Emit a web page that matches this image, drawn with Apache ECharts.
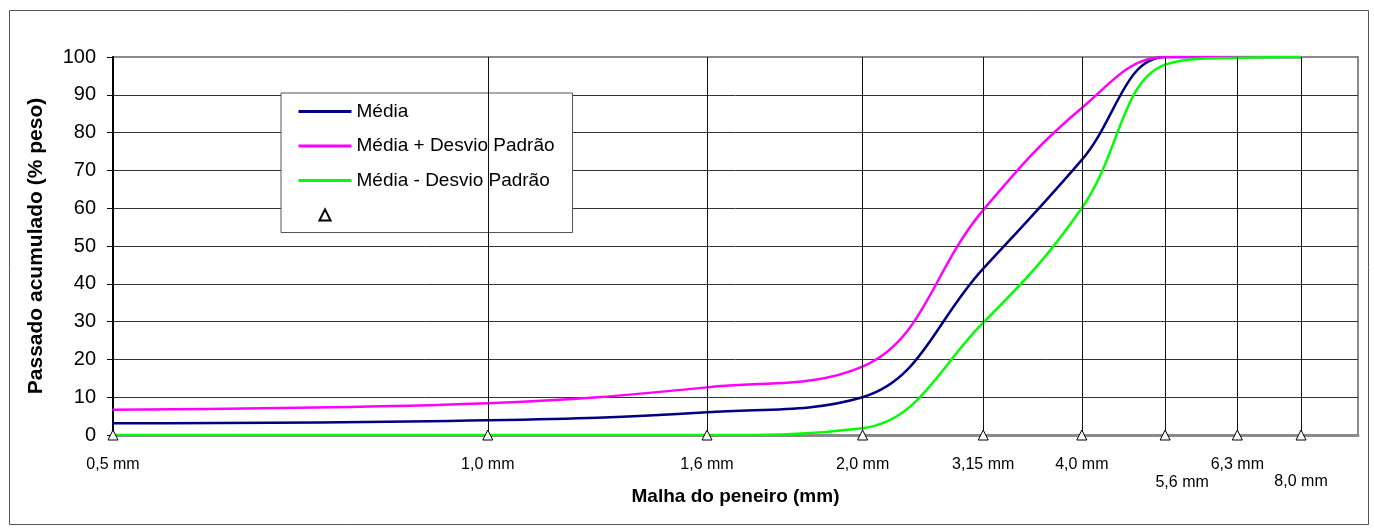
<!DOCTYPE html>
<html>
<head>
<meta charset="utf-8">
<script src="https://cdn.jsdelivr.net/npm/echarts@6/dist/echarts.min.js"></script>
<style>
  html, body { margin: 0; padding: 0; background: #fff; }
  #chart { width: 1374px; height: 530px; }
</style>
</head>
<body>
<div id="chart"></div>
<script>
// peneiros: posição no eixo (1..9, escala log) e rótulo
const sievePos = [1, 2, 3, 4, 5, 6, 7, 8, 9]
const sieveLabels = ['0,5 mm', '1,0 mm', '1,6 mm', '2,0 mm', '3,15 mm', '4,0 mm', '5,6 mm', '6,3 mm', '8,0 mm']

// passado acumulado (% peso)
const media = [3.1, 3.9, 6.0, 10.0, 44.0, 72.8, 100, 100, 100]
const mediaMais = [6.7, 8.4, 12.6, 18.1, 59.5, 86.5, 100, 100, 100]
const mediaMenos = [0, 0, 0, 1.8, 29.7, 60, 98, 99.8, 100]

const yTicks = { min: 0, max: 100, interval: 10 }

const font = 'Arial, "Liberation Sans", sans-serif'

const chart = echarts.init(document.getElementById('chart'))

function pairs(vals) {
  return sievePos.map((x, i) => [x, vals[i]])
}

// rótulos dos peneiros abaixo dos triângulos (5,6 e 8,0 deslocados como no original)
const markers = sievePos.map((x, i) => {
  const item = { value: [x, 0] }
  if (i === 6) item.label = { offset: [17, 18] }
  if (i === 8) item.label = { offset: [0, 17] }
  return item
})

const curve = (name, color, vals) => ({
  name: name,
  type: 'line',
  smooth: 0.4,
  symbol: 'none',
  lineStyle: { color: color, width: 2.5 },
  itemStyle: { color: color },
  data: pairs(vals),
  z: 3
})

// só a linha na legenda, sem o círculo
const lineOnly = name => ({ name: name, itemStyle: { opacity: 0 }, lineStyle: { width: 3 } })

const option = {
  animation: false,
  backgroundColor: '#fff',
  textStyle: { fontFamily: font },
  graphic: [{
    type: 'rect',
    shape: { x: 9.5, y: 10.5, width: 1359, height: 514 },
    style: { fill: 'none', stroke: '#555', lineWidth: 1 },
    silent: true
  }],
  grid: {
    left: 113, top: 57, right: 16, bottom: 95,
    show: true, borderColor: '#8a8a8a', borderWidth: 2
  },
  legend: {
    data: [
      lineOnly('Média'),
      lineOnly('Média + Desvio Padrão'),
      lineOnly('Média - Desvio Padrão'),
      ' '
    ],
    orient: 'vertical',
    left: 281, top: 93,
    padding: [9, 18, 8, 16],
    itemWidth: 53, itemHeight: 14, itemGap: 15.5,
    borderColor: '#555', borderWidth: 1,
    backgroundColor: '#fff',
    textStyle: { fontSize: 19, color: '#000', fontFamily: font }
  },
  xAxis: {
    type: 'log', logBase: 10, min: 1, max: 10,
    name: 'Malha do peneiro (mm)',
    nameLocation: 'middle', nameGap: 52,
    nameTextStyle: { fontSize: 19, fontWeight: 'bold', color: '#000', fontFamily: font },
    axisLine: { lineStyle: { color: '#8a8a8a', width: 3 } },
    axisTick: { show: false },
    axisLabel: { show: false },
    splitLine: { show: false }
  },
  yAxis: {
    type: 'value',
    min: yTicks.min, max: yTicks.max, interval: yTicks.interval,
    name: 'Passado acumulado (% peso)',
    nameLocation: 'middle', nameGap: 66,
    nameTextStyle: { fontSize: 21, fontWeight: 'bold', color: '#000', fontFamily: font },
    axisLine: { show: true, lineStyle: { color: '#000', width: 2 } },
    axisTick: { show: true, inside: false, length: 6, lineStyle: { color: '#000' } },
    axisLabel: { fontSize: 20, color: '#000', margin: 17, fontFamily: font },
    splitLine: { show: true, showMinLine: false, showMaxLine: false, lineStyle: { color: '#333', width: 1 } }
  },
  series: [
    {
      name: 'grade',
      type: 'line',
      data: [],
      markLine: {
        silent: true,
        symbol: ['none', 'none'],
        label: { show: false },
        lineStyle: { color: '#111', width: 1, type: 'solid' },
        data: sievePos.slice(1).map(x => ({ xAxis: x }))
      },
      z: 1
    },
    curve('Média', '#000080', media),
    curve('Média + Desvio Padrão', '#ff00ff', mediaMais),
    curve('Média - Desvio Padrão', '#00ff00', mediaMenos),
    {
      name: ' ',
      type: 'line',
      symbol: 'triangle',
      symbolSize: 10,
      showSymbol: true,
      lineStyle: { opacity: 0, width: 0 },
      itemStyle: { color: '#fff', borderColor: '#000', borderWidth: 1 },
      label: {
        show: true,
        position: 'bottom',
        distance: 16,
        fontSize: 16,
        color: '#000',
        fontFamily: font,
        formatter: p => sieveLabels[p.dataIndex]
      },
      data: markers,
      clip: false,
      z: 5
    }
  ]
}

chart.setOption(option)
</script>
</body>
</html>
